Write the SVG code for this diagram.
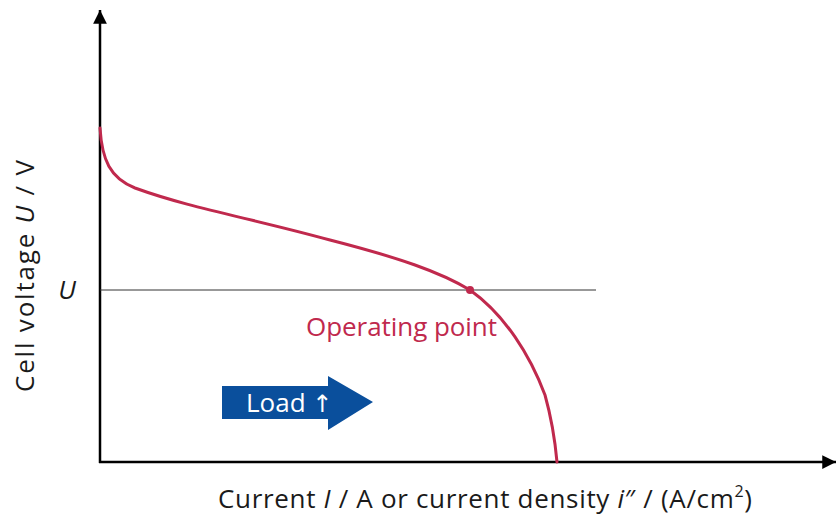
<svg xmlns="http://www.w3.org/2000/svg" width="836" height="519" viewBox="0 0 836 519">
<style>
.t{font-family:"Open Sans","Noto Sans","Liberation Sans",sans-serif;font-size:26px;fill:#1a1a1a}
.axis{stroke:#000;stroke-width:2.5;fill:none}
.curve{stroke:#c0294d;stroke-width:3;fill:none;stroke-linecap:round}
</style>
<defs>
<marker id="ah" viewBox="0 0 10 10" refX="10" refY="5" markerWidth="5.5" markerHeight="5.5" orient="auto" markerUnits="strokeWidth">
<path d="M0,0 L10,5 L0,10 Z" fill="#000"/>
</marker>
</defs>
<rect width="836" height="519" fill="#fff"/>
<g id="connectors">
<line class="axis" x1="100" y1="463" x2="100" y2="10" marker-end="url(#ah)"/>
<line class="axis" x1="99" y1="462" x2="836" y2="462" marker-end="url(#ah)"/>
<line x1="100" y1="290" x2="596" y2="290" stroke="#333" stroke-width="1"/>
<path class="curve" d="M100,128 C102,160 110,178 135,188 C190,208 250,218 330,240 C400,258 440,272 470,290 C505,315 530,355 545,395 C552,420 555,440 557,462"/>
</g>
<g id="operating-point">
<circle cx="470" cy="290" r="4" fill="#c0294d"/>
<text class="t" x="306" y="336" textLength="191" style="fill:#c0294d">Operating point</text>
</g>
<g id="load-arrow">
<path d="M222,386 L328,386 L328,376 L373,402 L328,430 L328,419 L222,419 Z" fill="#0a4f9c"/>
<text class="t" x="246" y="412" style="fill:#fff">Load <tspan font-family="DejaVu Sans" font-size="24">↑</tspan></text>
</g>
<g id="labels">
<text class="t" x="67" y="299" text-anchor="middle" font-style="italic">U</text>
<text class="t" transform="translate(34,276) rotate(-90)" text-anchor="middle" textLength="232">Cell voltage <tspan font-style="italic">U</tspan> / V</text>
<text class="t" x="218" y="508" textLength="534">Current <tspan font-style="italic">I</tspan> / A or current density <tspan font-style="italic">i</tspan>″ / (A/cm<tspan baseline-shift="super" font-size="16">2</tspan>)</text>
</g>
</svg>
